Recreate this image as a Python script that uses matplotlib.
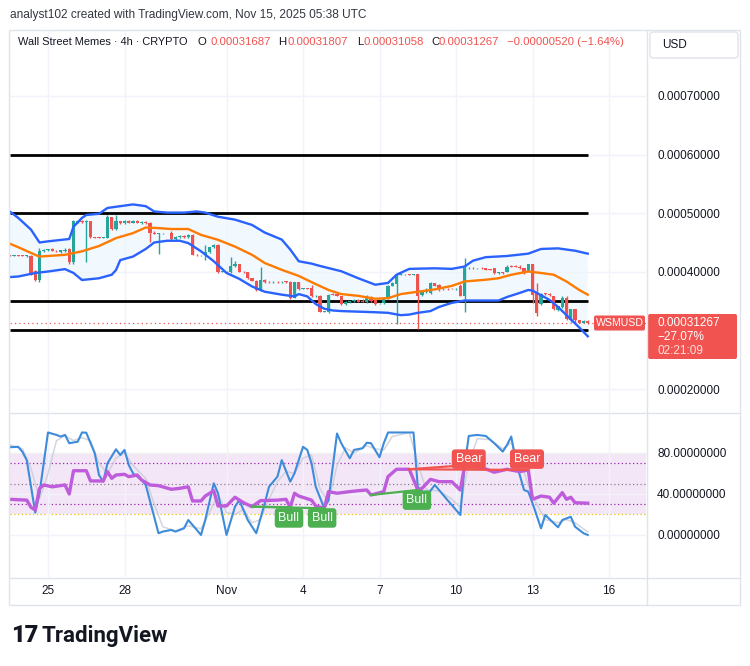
import numpy as np
import matplotlib
matplotlib.use('Agg')
import matplotlib.pyplot as plt
from matplotlib.patches import FancyBboxPatch
import matplotlib.transforms as mtrans

plt.rcParams['font.family'] = ['Liberation Sans Narrow', 'Liberation Sans', 'DejaVu Sans']

# ---------------- data ----------------
PRICE_UNIT = 1e-6            # values below are in millionths of USD
CANDLE_START_DAY = -1.5      # first candle: Oct 23 12:00 (days from Oct 25 00:00)
CANDLES_PER_DAY = 6          # 4h candles

opens = [428, 427.5, 428.5, 427.5, 427, 427, 402, 386, 435, 437,
         438.5, 436, 434, 436, 439, 416, 484, 487, 485, 486,
         459, 458.5, 458, 458, 493, 473, 486, 483, 486, 484,
         486, 484, 485.5, 483, 467, 465, 466, 466.5, 466, 456,
         459.5, 461, 459.5, 463, 429, 428.5, 428.5, 434.5, 441.5, 446,
         400, 400, 399.5, 410, 413, 400, 399.5, 389, 385, 369,
         386, 382.5, 382, 383, 382, 383, 383, 356, 382, 371,
         372, 373, 358, 359.5, 332, 332, 362.5, 362, 358, 345,
         349, 349.5, 352.5, 351, 349, 357, 352, 346.5, 346.5, 355,
         376, 380, 395, 396, 395.5, 395, 396, 361, 366, 364,
         380.5, 378, 370.5, 371, 371, 370.5, 376, 359, 406, 406.5,
         406, 406.5, 406, 403.5, 406, 398, 398.5, 400, 409.5, 409.5,
         409, 406, 402, 413.5, 365, 345, 363, 362, 358, 334,
         340, 355, 318, 336, 317, 313.5, 316.87]
highs = [429, 429, 429, 428, 428, 428, 402.5, 440, 439, 439,
         440, 438, 437, 441, 440, 488, 489, 488, 489, 487,
         460, 459.5, 459, 497, 494, 497, 487, 488, 488, 488,
         488, 487, 487, 485, 470, 467, 467, 467, 470, 461,
         462, 463, 464, 464, 430, 429.5, 446, 443, 447, 447,
         401, 401, 426, 418, 414, 401, 400, 390, 386, 409,
         387, 384, 383.5, 384, 384, 384, 384, 383, 383, 372.5,
         373, 378, 361, 361, 333, 362, 363, 364, 359, 350,
         350, 353, 354, 353, 360, 358, 353, 347.5, 357, 378,
         382, 396, 397.5, 397, 396.5, 396.5, 397, 368, 372, 383,
         381.5, 380, 372, 372, 372, 372, 379, 423, 407.5, 407.5,
         407, 407.5, 407, 404.5, 407, 399, 399.5, 411, 412, 412,
         411, 407, 414, 414, 381, 363, 364, 363.5, 359, 342,
         359, 359, 337, 337, 318.5, 318, 318.07]
lows = [427, 427, 427, 426.5, 426, 394, 384, 382, 433, 435,
        435, 434, 432, 434, 414, 414, 483, 484, 416, 458,
        457.5, 457.5, 457, 457, 472, 472, 482, 482, 483, 483,
        483, 482, 482, 451, 464, 430, 465, 465.5, 455, 455,
        458, 458, 458, 428, 427.5, 427.5, 420, 432, 440, 398,
        399, 398.5, 398, 408, 399, 398.5, 388, 384, 367, 367,
        381, 381, 381, 381.5, 381, 381.5, 354, 355, 369, 370,
        370.5, 357, 357.5, 331, 331, 329.5, 360, 358, 344, 344,
        347.5, 348, 348.5, 348, 347, 348.5, 344, 345.5, 345, 354,
        375, 311, 394, 394.5, 394.5, 394.5, 302, 359, 364, 362,
        375, 368, 369.5, 369.5, 370, 369.5, 358, 332, 405, 405.5,
        405, 405.5, 402.5, 402.5, 397, 397, 397, 399, 408, 408,
        405, 397, 401, 346.5, 325, 343, 361, 359.5, 335, 333,
        339, 318, 314, 313, 312.5, 312.5, 310.58]
closes = [427.5, 428.5, 427.5, 427, 427, 395, 386, 435, 438, 438.5,
          436, 435, 436.5, 438, 416, 486, 487.5, 485, 486.5, 459,
          458.5, 458, 458, 494, 473, 486, 483, 486.5, 484, 486.5,
          484, 485.5, 483, 467, 465, 466, 466.5, 466, 456, 459.5,
          461, 459.5, 463, 429, 428.5, 428.5, 434.5, 441.5, 446, 400,
          400, 399.5, 410, 413, 400, 399.5, 389, 385, 369, 386,
          382, 382, 383, 382, 383, 382.5, 356, 382, 371, 372,
          371.5, 358, 359.5, 332, 332, 361, 361, 359, 345, 349,
          349.5, 352, 349, 349, 358, 349.5, 345, 346.5, 355, 376,
          380.5, 395, 396.5, 395.5, 395, 396, 358, 366, 369, 380.5,
          376, 370, 371, 370.5, 370.5, 371, 359, 406, 407, 406,
          406.5, 406, 403, 403, 398, 398, 398, 409, 408.5, 408.5,
          406, 398, 413.5, 361, 330, 362.5, 362, 360, 336.5, 341,
          355, 320, 336, 318, 313.5, 316.8, 312.67]

# Bollinger bands: (candle index, value)
bb_upper_idx = [0, 2, 5, 7, 9, 14, 15, 17, 18, 21, 23, 26, 29, 32, 34, 37, 41, 44, 46, 49,
                53, 57, 60, 64, 66, 68, 71, 73, 78, 82, 86, 89, 91, 94, 100, 104, 107, 109,
                112, 117, 122, 125, 129, 133, 136]
bb_upper = [503, 492, 472, 450, 452, 456, 477, 492, 497, 499, 509, 512, 515, 512, 503, 501,
            501, 503, 501, 494, 489, 480, 467, 455, 438, 418, 414, 410, 401, 389, 378, 381,
            395, 405, 406, 405, 409, 419, 425, 427, 431, 439, 440, 436, 431]
bb_lower_idx = [0, 2, 6, 9, 13, 15, 17, 21, 24, 25, 26, 29, 32, 34, 37, 40, 42, 45, 48, 51,
                54, 57, 60, 64, 67, 68, 70, 72, 74, 76, 78, 82, 86, 89, 92, 94, 96, 99, 101,
                104, 107, 112, 115, 117, 120, 122, 123, 125, 127, 129, 131, 133, 134, 136]
bb_lower = [391, 392, 398, 400.5, 404.6, 398, 386, 389, 395, 403, 420, 426, 439, 450, 453,
            453, 449, 435, 418, 398, 388, 375, 366, 361, 358, 362, 358, 345, 337, 334, 333,
            332, 331, 330, 326, 327, 330, 333, 340, 347, 351, 351, 351, 357, 364, 369, 368,
            360, 352, 340, 326, 312, 305, 290]
bb_mid_idx = [0, 2, 6, 7, 9, 13, 17, 21, 25, 29, 32, 35, 38, 42, 45, 49, 53, 57, 60, 64,
              68, 72, 75, 78, 82, 86, 89, 92, 96, 100, 104, 107, 112, 115, 118, 122, 125,
              128, 131, 134, 136]
bb_mid = [448, 442, 429, 426, 427, 429, 435, 444, 457.5, 466, 475.6, 474.6, 473, 473, 463,
          454.6, 443, 429, 415, 403.4, 393, 379, 369, 362, 359, 354, 355, 362, 366, 370, 376,
          383.5, 386.5, 389, 395, 400.5, 398, 395, 383.5, 369, 361]

LEVELS = [600, 500, 350, 300]   # horizontal support / resistance lines

# Stochastic RSI %K (blue), %D (grey) and RSI (purple): (candle index, value)
k_idx = [0, 2, 3, 4, 6, 7, 9, 11, 12, 13, 14, 16, 17, 18, 20, 21, 22, 23, 25, 26, 27, 28,
         29, 31, 32, 35, 36, 38, 39, 41, 42, 43, 45, 46, 48, 49, 51, 53, 54, 56, 58, 60, 61,
         63, 64, 66, 67, 69, 70, 71, 72, 74, 75, 77, 78, 80, 81, 83, 84, 85, 87, 88, 89, 92,
         95, 96, 97, 98, 100, 101, 103, 104, 106, 107, 108, 110, 112, 114, 116, 117, 118,
         119, 121, 122, 123, 125, 126, 129, 130, 132, 133, 135, 136]
k_val = [85.6, 86, 81, 73, 21.8, 40.7, 100, 97.6, 96, 97.6, 89.5, 91, 100, 99.8, 79.7, 58.5,
         52, 70, 83.6, 78, 83, 68.3, 60.2, 53.7, 48.8, 1.7, 3.3, 4.9, 3.3, 6.5, 14.6, 9.8, 0,
         14.6, 50.4, 40.7, 0, 27.6, 34, 14.6, 1.7, 31, 47, 57, 73, 52, 60.2, 86, 83, 70, 47,
         26, 34, 99, 89.5, 74.8, 83, 84.6, 90, 89.5, 75.8, 89.5, 100, 100, 100, 47, 42.3,
         37.4, 48.8, 43.9, 34, 29.3, 19.5, 66.6, 96.6, 97.6, 96.6, 89.5, 81.3, 87.8, 96, 73,
         43.9, 42.3, 31, 6.5, 19.5, 7.5, 14.6, 17.8, 8.1, 1.7, 0]
d_idx = [0, 3, 5, 7, 9, 11, 13, 15, 17, 19, 21, 23, 25, 27, 29, 32, 34, 36, 39, 42, 45, 47,
         49, 51, 53, 55, 57, 59, 61, 63, 65, 67, 69, 71, 73, 75, 77, 79, 81, 84, 86, 88, 90,
         94, 96, 98, 101, 104, 106, 108, 110, 113, 116, 118, 120, 122, 124, 126, 129, 131,
         133, 136]
d_val = [88, 84, 65, 35, 60, 92, 97, 92, 95, 92, 70, 60, 75, 80, 68, 55, 30, 8, 4, 9, 6, 22,
         40, 22, 20, 25, 12, 15, 35, 52, 62, 60, 75, 78, 45, 32, 68, 85, 80, 87, 84, 83, 96,
         100, 70, 44, 43, 35, 27, 70, 94, 93, 84, 90, 75, 48, 30, 15, 12, 15, 12, 3]
rsi_idx = [0, 4, 5, 6, 7, 8, 10, 13, 14, 15, 18, 19, 22, 23, 24, 25, 27, 28, 30, 31, 33, 35,
           38, 40, 42, 43, 45, 46, 48, 49, 51, 53, 55, 57, 59, 63, 65, 66, 67, 68, 71, 72,
           74, 75, 77, 80, 82, 84, 85, 88, 89, 91, 94, 96, 97, 99, 101, 104, 106, 107, 108,
           111, 114, 117, 120, 122, 123, 125, 127, 128, 130, 131, 132, 133, 136]
rsi_val = [34.8, 34, 27, 24.4, 45.5, 48.8, 47, 48.8, 40, 62.7, 62.7, 52.7, 52.7, 61.8, 55.3,
           58.5, 59.2, 56.9, 58.5, 53.7, 48.8, 48.1, 44.6, 45.5, 47, 33.2, 33.2, 38, 43.2,
           28.3, 28.3, 36.8, 31.5, 27.6, 33.5, 34, 34.8, 27, 40.7, 38, 34, 28.3, 26, 42.3,
           40.7, 42.3, 43.2, 43.9, 39, 42.3, 56.9, 64.1, 64.1, 43.9, 45.5, 54.3, 52, 52, 43.9,
           66.6, 68.3, 66, 61.2, 64.1, 61.8, 63.4, 34.8, 38, 36.8, 31, 41.3, 34.8, 36.8, 31.5,
           31]

# divergence signals: (start index, start rsi, end index, end rsi), label, label value
div_lines = [(57, 27.6, 66, 27.0), (57, 27.6, 74, 26.0), (85, 39.0, 96, 43.9),
             (94, 64.1, 108, 68.3), (94, 64.1, 122, 63.4)]
div_kind = ['Bull', 'Bull', 'Bull', 'Bear', 'Bear']
div_label_idx = [65.7, 73.5, 95.8, 108.0, 121.7]
div_label_val = [16.6, 16.6, 34.0, 74.0, 74.0]

TICK_DAYS = [0, 3, 7, 10, 13, 16, 19, 22]
TICK_LABELS = ['25', '28', 'Nov', '4', '7', '10', '13', '16']
PRICE_TICKS = [700, 600, 500, 400, 300, 200]
PRICE_LABELS = ['0.00070000', '0.00060000', '0.00050000', '0.00040000', '', '0.00020000']
OSC_TICKS = [80, 40, 0]
OSC_LABELS = ['80.00000000', '40.00000000', '0.00000000']

# ---------------- style ----------------
UP = '#26A69A'
DOWN = '#EF5350'
TEXT = '#131722'
GRID = '#F0F3FA'
BORDER = '#E0E3EB'

W, H = 750, 666
fig = plt.figure(figsize=(W / 100, H / 100), dpi=100)
fig.patch.set_facecolor('white')


def px_axes(x0, y0, x1, y1, **kw):
    return fig.add_axes([x0 / W, 1 - y1 / H, (x1 - x0) / W, (y1 - y0) / H], **kw)


PANE_L, PANE_R = 10, 646
MAIN_T, MAIN_B = 30, 412
OSC_T, OSC_B = 413, 577

ax = px_axes(PANE_L, MAIN_T, PANE_R, MAIN_B)
axo = px_axes(PANE_L, OSC_T, PANE_R, OSC_B)
ov = fig.add_axes([0, 0, 1, 1], zorder=5)
ov.set_xlim(0, W)
ov.set_ylim(H, 0)
ov.axis('off')
ov.patch.set_alpha(0)

n = len(closes)
idx = np.arange(n)
tick_pos = [(d - CANDLE_START_DAY) * CANDLES_PER_DAY for d in TICK_DAYS]
XL = (0.06, 149.7)

for a in (ax, axo):
    a.set_xlim(*XL)
    for s in a.spines.values():
        s.set_visible(False)
    a.set_xticks(tick_pos)
    a.tick_params(length=0, labelbottom=False, labelleft=False)
    a.grid(True, color=GRID, lw=1, zorder=0)
    a.set_facecolor('white')

ax.set_ylim(160.8 * PRICE_UNIT, 812.6 * PRICE_UNIT)
ax.set_yticks([p * PRICE_UNIT for p in PRICE_TICKS])
axo.set_ylim(-41, 119)
axo.set_yticks(OSC_TICKS)

o = np.array(opens) * PRICE_UNIT
h = np.array(highs) * PRICE_UNIT
l = np.array(lows) * PRICE_UNIT
c = np.array(closes) * PRICE_UNIT

# Bollinger fill (polygon through upper points then lower points reversed)
ax.fill(np.concatenate([bb_upper_idx, bb_lower_idx[::-1]]),
        np.concatenate([np.array(bb_upper), np.array(bb_lower)[::-1]]) * PRICE_UNIT,
        color='#2196F3', alpha=0.06, lw=0, zorder=1)

# horizontal levels
for lv in LEVELS:
    ax.plot([0, n - 1], [lv * PRICE_UNIT] * 2, color='black', lw=2.0, zorder=2,
            solid_capstyle='butt')

# candles
colors = [UP if cc >= oo else DOWN for oo, cc in zip(o, c)]
ax.vlines(idx, l, h, colors=colors, lw=1.0, zorder=3)
body = np.abs(c - o)
body = np.maximum(body, 1.0 * PRICE_UNIT)
ax.bar(idx, body, bottom=np.minimum(o, c), width=0.74, color=colors, lw=0, zorder=4)

ax.plot(bb_upper_idx, np.array(bb_upper) * PRICE_UNIT, color='#2962FF', lw=1.7, zorder=5)
ax.plot(bb_lower_idx, np.array(bb_lower) * PRICE_UNIT, color='#2962FF', lw=1.7, zorder=5)
ax.plot(bb_mid_idx, np.array(bb_mid) * PRICE_UNIT, color='#FF7A00', lw=1.7, zorder=5)

# current price dotted line
ax.axhline(c[-1], color=DOWN, lw=0.9, ls=(0, (1, 2.5)), zorder=2)

# oscillator pane
axo.axhspan(20, 80, color='#F3E6F6', zorder=0.5, lw=0)
for lv, col in [(80, '#E8C400'), (20, '#E8C400'), (70, '#9C27B0'), (30, '#9C27B0'),
                (50, '#8E7A96')]:
    axo.axhline(lv, color=col, lw=0.9, ls=(0, (1, 2)), zorder=1)
axo.plot(d_idx, d_val, color='#C9CCD6', lw=1.1, alpha=0.8, zorder=2)
axo.plot(k_idx, k_val, color='#3D8BDB', lw=1.5, zorder=3)
axo.plot(rsi_idx, rsi_val, color='#BE5CDC', lw=2.4, zorder=4, solid_joinstyle='round')

for (x0, y0, x1, y1), kind, lx, lyv in zip(div_lines, div_kind, div_label_idx, div_label_val):
    col = '#4CAF50' if kind == 'Bull' else '#F05350'
    axo.plot([x0, x1], [y0, y1], color=col, lw=1.6, zorder=5)
    axo.text(lx, lyv, kind, ha='center', va='center', color='white', fontsize=9, zorder=6,
             bbox=dict(boxstyle='round,pad=0.3,rounding_size=0.25', fc=col, ec='none'))

# ---------------- frame & texts (pixel overlay) ----------------
def hline(y, x0, x1, col=BORDER, lw=1):
    ov.plot([x0, x1], [y, y], color=col, lw=lw, solid_capstyle='butt')


def vline(x, y0, y1, col=BORDER, lw=1):
    ov.plot([x, x], [y0, y1], color=col, lw=lw, solid_capstyle='butt')


hline(30, 9, 740)
hline(412.5, 9, 740)
hline(577.5, 9, 740)
hline(605, 9, 740)
vline(9, 30, 605)
vline(740, 30, 605)
vline(646.5, 30, 605)

ov.text(10, 15, 'analyst102 created with TradingView.com, Nov 15, 2025 05:38 UTC',
        fontsize=8.6, color='#333740', va='center', ha='left')
ov.text(18, 42, 'Wall Street Memes · 4h · CRYPTO', fontsize=7.9, color=TEXT, va='center')
for x, s, col in [(198, 'O', TEXT), (210.5, '0.00031687', DOWN), (278, 'H', TEXT),
                  (287, '0.00031807', DOWN), (357, 'L', TEXT), (363, '0.00031058', DOWN),
                  (431, 'C', TEXT), (438.5, '0.00031267', DOWN),
                  (507, '−0.00000520 (−1.64%)', DOWN)]:
    ov.text(x, 42, s, fontsize=8.2, color=col, va='center', ha='left')

ov.add_patch(FancyBboxPatch((650, 32), 88, 26, boxstyle='round,pad=0,rounding_size=3',
                            fc='white', ec=BORDER, lw=1))
ov.text(662, 45, 'USD', fontsize=8.5, color=TEXT, va='center')

LABEL_DY = mtrans.ScaledTranslation(0, -1.5 / 100, fig.dpi_scale_trans)
ytr = mtrans.blended_transform_factory(ax.transAxes, ax.transData) + LABEL_DY
for p, s in zip(PRICE_TICKS, PRICE_LABELS):
    ax.text((657 - PANE_L) / (PANE_R - PANE_L), p * PRICE_UNIT, s, transform=ytr,
            fontsize=8.5, color=TEXT, va='center', ha='left', clip_on=False)
otr = mtrans.blended_transform_factory(axo.transAxes, axo.transData) + LABEL_DY
for v, s in zip(OSC_TICKS, OSC_LABELS):
    axo.text((657 - PANE_L) / (PANE_R - PANE_L), v, s, transform=otr,
             fontsize=8.5, color=TEXT, va='center', ha='left', clip_on=False)
xtr = mtrans.blended_transform_factory(axo.transData, axo.transAxes)
for tp, s in zip(tick_pos, TICK_LABELS):
    axo.text(tp, -(591 - OSC_B) / (OSC_B - OSC_T), s, transform=xtr, fontsize=8.5,
             color=TEXT, ha='center', va='center', clip_on=False)

# price labels at the current price
fig.canvas.draw()
py = H - ax.transData.transform((0, c[-1]))[1]
ov.add_patch(FancyBboxPatch((594, py - 7.5), 51, 15, boxstyle='round,pad=0,rounding_size=2',
                            fc='#F05350', ec='none'))
ov.text(619.5, py, 'WSMUSD', fontsize=7.6, color='white', ha='center', va='center')
ov.add_patch(FancyBboxPatch((648, py - 9), 89, 45, boxstyle='round,pad=0,rounding_size=2',
                            fc='#F05350', ec='none'))
ov.text(657, py, f'{closes[-1] * PRICE_UNIT:.8f}', fontsize=8.5, color='white', va='center')
ov.text(657, py + 14, '−27.07%', fontsize=8.5, color='white', va='center')
ov.text(657, py + 28, '02:21:09', fontsize=8.5, color='#FDE0DF', va='center')

# TradingView logo
ov.text(11, 636, '17', fontsize=17, fontweight='heavy', color=TEXT, va='center',
        family=['Roboto', 'DejaVu Sans'])
ov.text(42, 636, 'TradingView', fontsize=16, fontweight='bold', color=TEXT, va='center',
        family=['Roboto', 'DejaVu Sans'])

fig.savefig('out.png', dpi=100, facecolor='white')
